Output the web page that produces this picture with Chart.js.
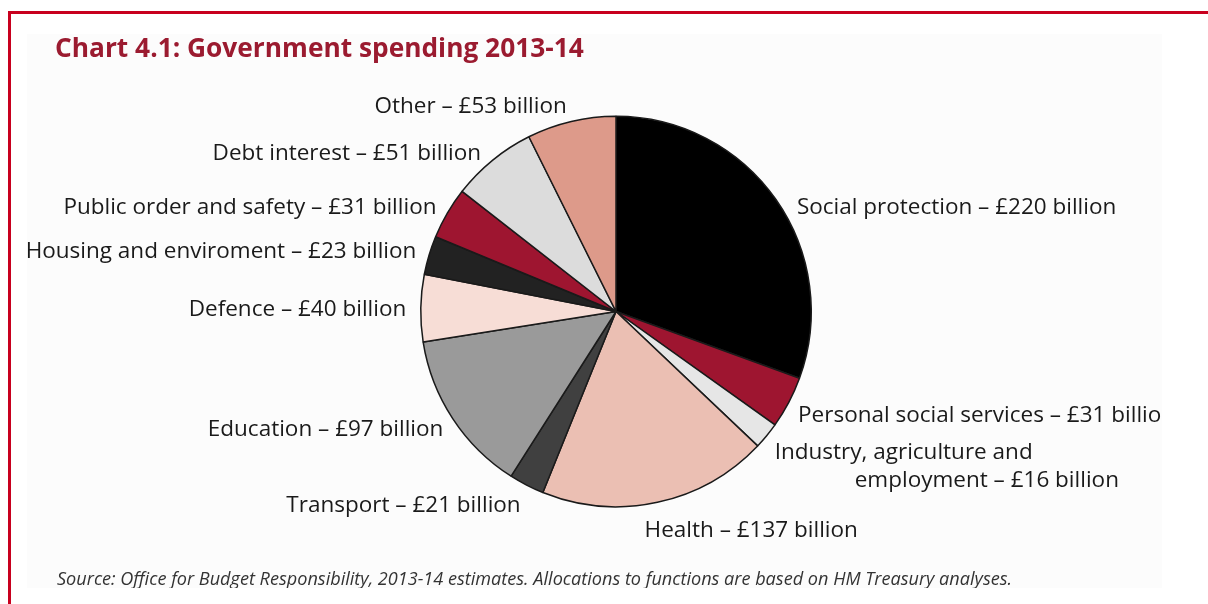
<!DOCTYPE html>
<html>
<head>
<meta charset="utf-8">
<script src="https://cdn.jsdelivr.net/npm/chart.js@4.4.1/dist/chart.umd.min.js"></script>
<style>
    html, body {
        margin: 0;
        padding: 0;
        width: 1208px;
        height: 604px;
        background: #ffffff;
        overflow: hidden;
        font-family: "Open Sans", "Noto Sans", sans-serif;
    }
    .frame-top {
        position: absolute;
        left: 8px;
        top: 11px;
        width: 1200px;
        height: 3px;
        background: #c8001e;
    }
    .frame-left {
        position: absolute;
        left: 8px;
        top: 11px;
        width: 3px;
        height: 593px;
        background: #c8001e;
    }
    .panel {
        position: absolute;
        left: 27px;
        top: 34px;
        width: 1135px;
        height: 554px;
        background: #fcfcfc;
        overflow: hidden;
    }
    .title {
        position: absolute;
        left: 28px;
        top: 0px;
        font-weight: bold;
        font-size: 26.3px;
        line-height: 26px;
        color: #9b1b30;
        white-space: nowrap;
    }
    .source {
        position: absolute;
        left: 30px;
        top: 535px;
        font-style: italic;
        font-size: 18.1px;
        line-height: 18px;
        color: #333333;
        white-space: nowrap;
    }
    #chart {
        position: absolute;
        left: 0;
        top: 0;
    }
</style>
</head>
<body>
<div class="frame-top"></div>
<div class="frame-left"></div>
<div class="panel">
    <canvas id="chart" width="1135" height="554"></canvas>
    <div class="title">Chart 4.1: Government spending 2013-14</div>
    <div class="source">Source: Office for Budget Responsibility, 2013-14 estimates. Allocations to functions are based on HM Treasury analyses.</div>
</div>
<script>
// £ billion, clockwise from 12 o'clock
const categories = [
    'Social protection',
    'Personal social services',
    ['Industry, agriculture and', 'employment'],
    'Health',
    'Transport',
    'Education',
    'Defence',
    'Housing and enviroment',
    'Public order and safety',
    'Debt interest',
    'Other'
];
const spending = [220, 31, 16, 137, 21, 97, 40, 23, 31, 51, 53];
const sliceColours = [
    '#000000', '#9e1530', '#e6e6e6', '#ebbfb3', '#404040', '#9a9a9a',
    '#f7ddd6', '#222222', '#9e1530', '#dcdcdc', '#dd9a8a'
];

// small hand nudges so labels sit where they read best, plus per-line indents
const labelNudge = [[5, 19], [-8, 4], [-7, 4], [-17, 9], [3, 3], [7, 0], [5, 2], [6, 2], [6, 4], [1, 8], [0, 4]];
const lineIndent = { 2: [0, 80] };

const sliceLabels = {
    id: 'sliceLabels',
    afterDatasetsDraw(chart) {
        const ctx = chart.ctx;
        const arcs = chart.getDatasetMeta(0).data;
        ctx.save();
        ctx.font = '22.5px "Open Sans", "Noto Sans", sans-serif';
        ctx.fillStyle = '#1a1a1a';
        ctx.textBaseline = 'middle';
        arcs.forEach((arc, i) => {
            const mid = (arc.startAngle + arc.endAngle) / 2;
            const r = arc.outerRadius * 1.1;
            const x = arc.x + Math.cos(mid) * r + labelNudge[i][0];
            const y = arc.y + Math.sin(mid) * r + labelNudge[i][1];
            const name = categories[i];
            const lines = Array.isArray(name) ? name.slice() : [name];
            lines[lines.length - 1] += ' \u2013 \u00a3' + spending[i] + ' billion';
            ctx.textAlign = Math.cos(mid) >= 0 ? 'left' : 'right';
            const indent = lineIndent[i] || [];
            lines.forEach((line, k) => {
                ctx.fillText(line, x + (indent[k] || 0), y + k * 28);
            });
        });
        ctx.restore();
    }
};

const ctx = document.getElementById('chart').getContext('2d');
new Chart(ctx, {
    type: 'pie',
    data: {
        labels: categories,
        datasets: [{
            data: spending,
            backgroundColor: sliceColours,
            borderColor: '#1a1a1a',
            borderWidth: 1.5
        }]
    },
    options: {
        responsive: false,
        animation: false,
        layout: {
            padding: { left: 393, right: 350, top: 80, bottom: 79 }
        },
        plugins: {
            legend: { display: false },
            tooltip: { enabled: false }
        }
    },
    plugins: [sliceLabels]
});
</script>
</body>
</html>
